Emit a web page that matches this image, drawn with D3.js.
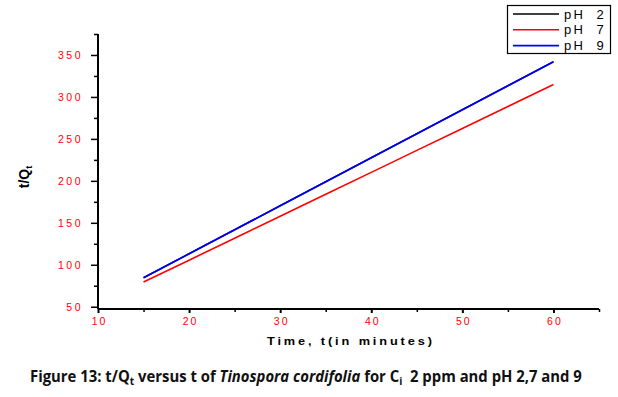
<!DOCTYPE html>
<html><head><meta charset="utf-8">
<script src="https://cdn.jsdelivr.net/npm/d3@7/dist/d3.min.js"></script>
<style>body{margin:0;background:#fff}svg{display:block}</style>
</head><body>
<svg id="c" width="618" height="397"></svg>
<script>
// ---- data ----
const times = [15, 20, 25, 30, 35, 40, 45, 50, 55, 60];
const pH2 = [84.5, 113.1, 141.7, 170.3, 198.9, 227.5, 256.1, 284.7, 313.3, 342.0]; // hidden beneath pH 9
const pH7 = [79.4, 105.5, 131.7, 157.8, 184.0, 210.1, 236.3, 262.4, 288.6, 314.8];
const pH9 = [84.5, 113.1, 141.7, 170.3, 198.9, 227.5, 256.1, 284.7, 313.3, 342.0];
const seriesNames = ["pH 2", "pH 7", "pH 9"];
const seriesColors = ["#000000", "#ff0000", "#0000ff"];
const xTicks = [10, 20, 30, 40, 50, 60];
const xMinorTicks = [15, 25, 35, 45, 55, 65];
const yTicks = [50, 100, 150, 200, 250, 300, 350];
const yMinorTicks = [75, 125, 175, 225, 275, 325, 375];

const svg = d3.select("#c");
const x = d3.scaleLinear().domain([10, 65]).range([98, 599]);
const y = d3.scaleLinear().domain([47.3, 375]).range([309, 34]);

const seriesVals = [pH2, pH7, pH9];
const series = seriesNames.map((n, i) => ({name: n, color: seriesColors[i], pts: times.map((t, j) => [t, seriesVals[i][j]])}));

// fit a text horizontally between x0 and x1 by scaling about x0
function fitX(sel, x0, x1) {
  const w = sel.node().getBBox().width;
  const s = (x1 - x0) / w;
  sel.attr("transform", `translate(${x0},0) scale(${s},1) translate(${-x0},0)`);
}

// lines
const line = d3.line().x(d => x(d[0])).y(d => y(d[1]));
svg.append("g").selectAll("path").data(series).join("path")
  .attr("d", d => line(d.pts)).attr("fill", "none")
  .attr("stroke", d => d.color).attr("stroke-width", 1.6);

const tickFont = "'Liberation Sans', Arial, sans-serif";

// x axis
const gx = svg.append("g").attr("transform", "translate(0,309)");
gx.call(d3.axisBottom(x).tickValues(xTicks).tickSize(4).tickPadding(5));
const gxm = svg.append("g").attr("transform", "translate(0,309)");
gxm.call(d3.axisBottom(x).tickValues(xMinorTicks).tickSize(3).tickFormat(""));
gxm.select(".domain").remove();
gx.select(".domain").attr("stroke-width", 2).attr("d", `M${x(10)},0H${x(65)}`);
gx.selectAll(".tick line").attr("stroke-width", 2);
gxm.selectAll(".tick line").attr("stroke-width", 1.5);
gx.selectAll(".tick text").attr("fill", "#ff0000").attr("font-family", tickFont)
  .attr("font-size", 10.5).attr("letter-spacing", "2px").attr("dx", "1px");

// y axis
const gy = svg.append("g").attr("transform", "translate(98,0)");
gy.call(d3.axisLeft(y).tickValues(yTicks).tickSize(7).tickPadding(8));
const gym = svg.append("g").attr("transform", "translate(98,0)");
gym.call(d3.axisLeft(y).tickValues(yMinorTicks).tickSize(4).tickFormat(""));
gym.select(".domain").remove();
gy.select(".domain").attr("stroke-width", 2).attr("d", `M0,${y(47.3)}V${y(375)}`);
gy.selectAll(".tick line").attr("stroke-width", 1.5);
gym.selectAll(".tick line").attr("stroke-width", 1.5);
gy.selectAll(".tick text").attr("fill", "#ff0000").attr("font-family", tickFont)
  .attr("font-size", 10.5).attr("letter-spacing", "2.5px");

// axis titles
const xt = svg.append("text").attr("x", 267).attr("y", 345)
  .attr("font-family", tickFont).attr("font-weight", "bold").attr("font-size", 11.5)
  .attr("letter-spacing", "2.6px").text("Time, t(in minutes)");
fitX(xt, 267, 435);

const yl = svg.append("text").attr("transform", "translate(29,177) rotate(-90)")
  .attr("text-anchor", "middle").attr("font-family", tickFont)
  .attr("font-weight", "bold").attr("font-size", 14);
yl.append("tspan").text("t/Q");
yl.append("tspan").attr("font-size", 9).attr("dy", 3).text("t");

// legend
const lg = svg.append("g");
lg.append("rect").attr("x", 507.5).attr("y", 5.5).attr("width", 103).attr("height", 48)
  .attr("fill", "#fff").attr("stroke", "#000").attr("stroke-width", 1.2);
const rows = lg.selectAll("g.row").data(series).join("g").attr("class", "row")
  .attr("transform", (d, i) => `translate(0,${14 + i * 15.8})`);
rows.append("line").attr("x1", 513).attr("x2", 559).attr("stroke", d => d.color).attr("stroke-width", 1.6);
rows.append("text").attr("x", 564).attr("y", 4.5).attr("font-family", tickFont)
  .attr("font-size", 12).attr("letter-spacing", "2px")
  .style("white-space", "pre").text(d => d.name.replace(" ", "  "))
  .each(function() { fitX(d3.select(this), 564, 606); });

// caption
const cap = svg.append("text").attr("x", 30).attr("y", 382)
  .attr("font-family", "'Open Sans', sans-serif")
  .attr("font-weight", "bold").attr("font-size", 16).attr("fill", "#111");
cap.append("tspan").text("Figure 13: t/Q");
cap.append("tspan").attr("font-size", 11).attr("dy", 3).text("t");
cap.append("tspan").attr("dy", -3).text(" versus t of ");
cap.append("tspan").attr("font-style", "italic").text("Tinospora cordifolia");
cap.append("tspan").text(" for C");
cap.append("tspan").attr("font-size", 11).attr("dy", 3).text("i");
cap.append("tspan").attr("dy", -3).style("white-space", "pre").text("  2 ppm and pH 2,7 and 9");
fitX(cap, 30, 582);
</script>
</body></html>
